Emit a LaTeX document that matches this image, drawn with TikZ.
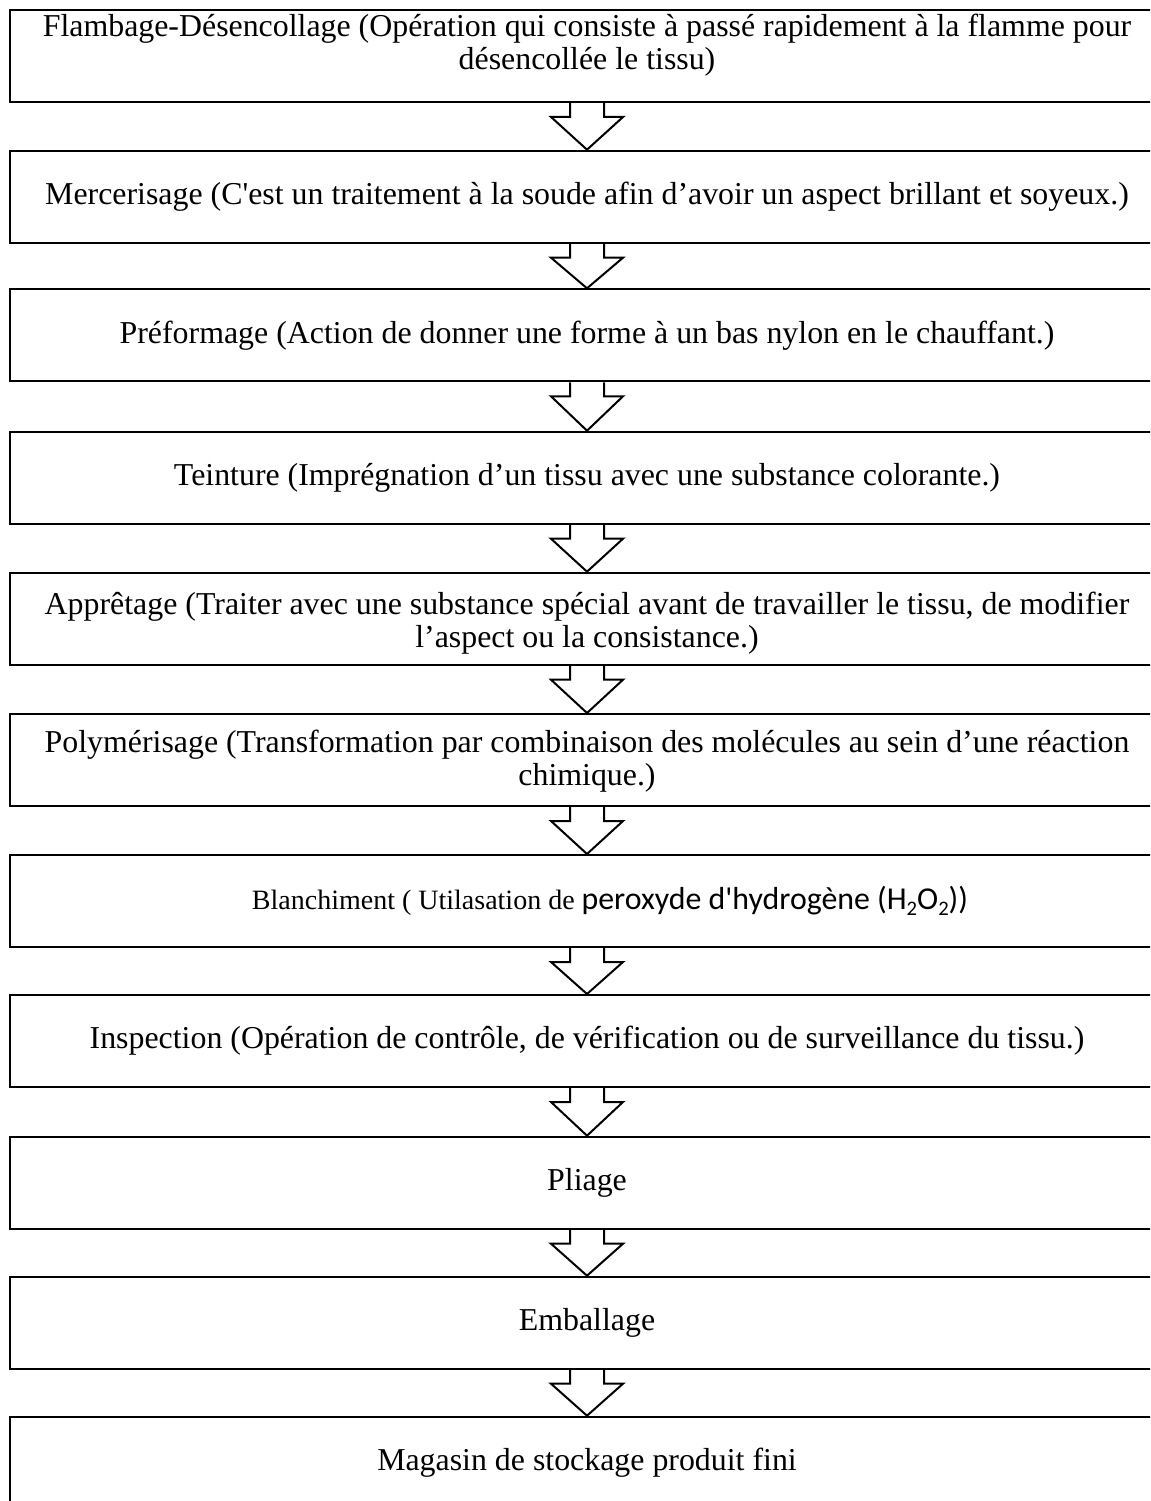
\documentclass[tikz,border=0pt]{standalone}
\usepackage{fontspec}
\usetikzlibrary{calc}
\newfontfamily\stepfont{Liberation Serif}
\newfontfamily\calfont{Carlito}
\newcommand\lowsub[1]{\raisebox{-0.4ex}{\fontsize{15.5pt}{15.5pt}\selectfont #1}}
\begin{document}
\begin{tikzpicture}[x=0.75pt,y=-0.75pt,
  stepbox/.style={draw,line width=1.5pt,minimum width=1154*0.75pt,minimum height=92*0.75pt,inner sep=0pt},
  steptext/.style={font=\stepfont\fontsize{23.9pt}{24.75pt}\selectfont,align=center,inner sep=0pt},
  arrowline/.style={draw,line width=1.5pt,line join=miter}]
\useasboundingbox (0,0) rectangle (1150,1501);
\clip (0,0) rectangle (1150,1501);

% process boxes (top edge + half height)
\node[stepbox] (b1)  at (587,56)     {};
\node[stepbox] (b2)  at (587,196.7)  {};
\node[stepbox] (b3)  at (587,335.3)  {};
\node[stepbox] (b4)  at (587,477.7)  {};
\node[stepbox] (b5)  at (587,618.7)  {};
\node[stepbox] (b6)  at (587,760)    {};
\node[stepbox] (b7)  at (587,901)    {};
\node[stepbox] (b8)  at (587,1041)   {};
\node[stepbox] (b9)  at (587,1182.7) {};
\node[stepbox] (b10) at (587,1322.7) {};
\node[stepbox] (b11) at (587,1462.7) {};

% labels
\node[steptext] (t1) at (587,45) {Flambage-Désencollage (Opération qui consiste à passé rapidement à la flamme pour\\désencollée le tissu)};
\node[steptext] (t2) at (b2.center) {Mercerisage (C'est un traitement à la soude afin d’avoir un aspect brillant et soyeux.)};
\node[steptext] (t3) at (b3.center) {Préformage (Action de donner une forme à un bas nylon en le chauffant.)};
\node[steptext] (t4) at (b4.center) {Teinture (Imprégnation d’un tissu avec une substance colorante.)};
\node[steptext] (t5) at (587,623) {Apprêtage (Traiter avec une substance spécial avant de travailler le tissu, de modifier\\l’aspect ou la consistance.)};
\node[steptext] (t6) at (587,761.5) {Polymérisage (Transformation par combinaison des molécules au sein d’une réaction\\chimique.)};
\node[steptext] (t7) at (610,901) {{\fontsize{21pt}{24.75pt}\selectfont Blanchiment ( Utilasation de }{\calfont peroxyde d'hydrogène (H\lowsub{2}O\lowsub{2}))}};
\node[steptext] (t8) at (b8.center) {Inspection (Opération de contrôle, de vérification ou de surveillance du tissu.)};
\node[steptext] (t9) at (b9.center) {Pliage};
\node[steptext] (t10) at (b10.center) {Emballage};
\node[steptext] (t11) at (b11.center) {Magasin de stockage produit fini};

% hollow block arrows between consecutive boxes
\newcommand\blockarrow[2]{%
  \draw[arrowline] ($(#1.south)+(-17,0)$) |- ($(#1.south)+(-36,14)$) -- (#2.north)
    -- ($(#1.south)+(36,14)$) -| ($(#1.south)+(17,0)$);}
\blockarrow{b1}{b2}
\blockarrow{b2}{b3}
\blockarrow{b3}{b4}
\blockarrow{b4}{b5}
\blockarrow{b5}{b6}
\blockarrow{b6}{b7}
\blockarrow{b7}{b8}
\blockarrow{b8}{b9}
\blockarrow{b9}{b10}
\blockarrow{b10}{b11}
\end{tikzpicture}
\end{document}
